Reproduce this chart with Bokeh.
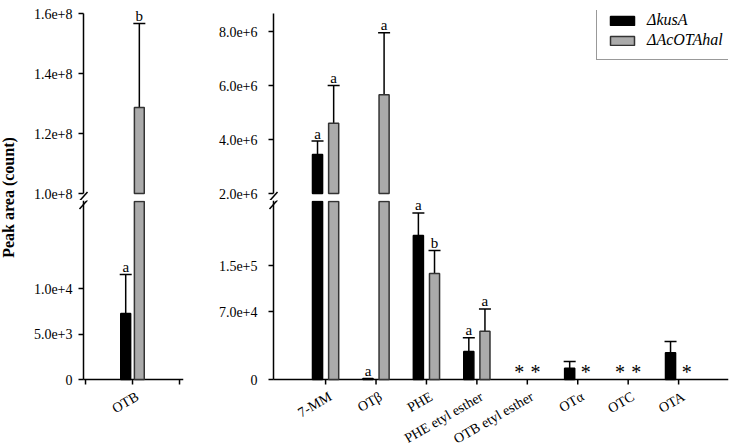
import numpy as np
from bokeh.plotting import figure
from bokeh.layouts import row, column
from bokeh.models import (ColumnDataSource, FixedTicker, Whisker, TeeHead, LabelSet,
                          Label, Legend, LegendItem, Range1d)
from bokeh.embed import file_html
from bokeh.resources import INLINE

# ---------------- data ----------------
left_categories = ["OTB"]
left_black_mean = [7250]
left_black_sd = [4300]
left_grey_mean = [1.287e8]
left_grey_sd = [2.8e7]
left_black_letters = ["a"]
left_grey_letters = ["b"]

right_categories = ["7-MM", "OTβ", "PHE", "PHE etyl esther", "OTB etyl esther", "OTα", "OTC", "OTA"]
right_black_mean = [3.44e6, 1000, 148200, 28800, 0, 11600, 0, 27500]
right_black_sd = [0.50e6, 0, 23300, 14100, 0, 6900, 0, 11600]
right_grey_mean = [4.60e6, 5.66e6, 109100, 49700, 0, 0, 0, 0]
right_grey_sd = [1.40e6, 2.29e6, 23600, 23000, 0, 0, 0, 0]
right_black_letters = ["a", "a", "a", "a", "", "", "", ""]
right_grey_letters = ["a", "a", "b", "a", "", "", "", ""]

series_names = ["ΔkusA", "ΔAcOTAhal"]
not_detected_mark = "*"

left_upper_ticks = [1.0e8, 1.2e8, 1.4e8, 1.6e8]
left_upper_labels = ["1.0e+8", "1.2e+8", "1.4e+8", "1.6e+8"]
left_lower_ticks = [0, 5000, 10000]
left_lower_labels = ["0", "5.0e+3", "1.0e+4"]
left_extra_xticks = [0, 2]
right_upper_ticks = [2e6, 4e6, 6e6, 8e6]
right_upper_labels = ["2.0e+6", "4.0e+6", "6.0e+6", "8.0e+6"]
right_lower_ticks = [0, 70000, 117300]
right_lower_labels = ["0", "7.0e+4", "1.5e+5"]

left_break_value = 1.0e8
right_break_value = 2.0e6

y_title = "Peak area (count)"

# ---------------- geometry / style ----------------
FONT = "Liberation Serif"
BLACK = "#000000"
GREY = "#ababab"
EDGE = "#333333"

TOP_H, TOP_BT = 200, 10          # upper figure, frame 190 px (y 10..200)
UP_ABOVE, UP_BELOW = 183, 7      # px above / below the break value in upper frame
BOT_H = 247                      # lower figure, frame = whole canvas
LO_ABOVE, LO_BELOW = 179, 68     # px above / below zero in lower frame
AXIS_PAD = 5                     # px between frame left edge and axis line

LEFT_CFG = dict(fw=105, bleft=50, bright=20, ppu=47.0, axis_x=-0.043,
                up_pp=2e7 / 60, lo_pp=5000 / 45.5, standoff=6, bar_w=0.21, off=0.145)
RIGHT_CFG = dict(fw=460, bleft=65, bright=4, ppu=50.43, axis_x=-0.033,
                 up_pp=2e6 / 54, lo_pp=70000 / 68, standoff=11, bar_w=0.2, off=0.16)


def style_fig(p):
    p.outline_line_color = None
    p.grid.visible = False
    p.background_fill_color = "white"
    p.border_fill_color = "white"


def style_yaxis(ax, standoff):
    ax.axis_line_color = None
    ax.major_tick_line_width = 1.5
    ax.major_tick_line_color = "black"
    ax.major_tick_out = 0
    ax.major_tick_in = AXIS_PAD
    ax.minor_tick_line_color = None
    ax.major_label_text_font = FONT
    ax.major_label_text_font_size = "14px"
    ax.major_label_text_color = "black"
    ax.major_label_standoff = standoff


def draw_segment(p, x, mean, sd, letters, lo, hi, clamp_hi, bar_w, fill, edge, asterisks):
    mean = np.asarray(mean, float)
    sd = np.asarray(sd, float)
    letters = np.asarray(letters, dtype=object)
    top = mean + sd
    m = mean > lo
    src = ColumnDataSource(dict(x=x[m], top=np.minimum(mean[m], clamp_hi), bottom=np.full(m.sum(), lo)))
    r = p.vbar(x="x", top="top", bottom="bottom", width=bar_w, source=src,
               fill_color=fill, line_color=edge, line_width=1.5)
    w = (sd > 0) & (top > lo) & (top <= hi)
    if w.any():
        wsrc = ColumnDataSource(dict(x=x[w], lower=np.maximum(mean[w], lo), upper=top[w]))
        p.add_layout(Whisker(base="x", lower="lower", upper="upper", source=wsrc, dimension="height",
                             line_width=1.5, line_color="black", lower_head=None,
                             upper_head=TeeHead(size=12, line_width=1.5, line_color="black")))
    lm = (letters != "") & (top > lo) & (top <= hi)
    if lm.any():
        lsrc = ColumnDataSource(dict(x=x[lm], y=top[lm], t=list(letters[lm])))
        p.add_layout(LabelSet(x="x", y="y", text="t", source=lsrc, text_align="center",
                              text_baseline="alphabetic", y_offset=2.5, text_font=FONT,
                              text_font_size="15px", text_color="black"))
    if asterisks:
        am = mean == 0
        if am.any():
            asrc = ColumnDataSource(dict(x=x[am], y=np.zeros(am.sum()), t=[not_detected_mark] * int(am.sum())))
            p.add_layout(LabelSet(x="x", y="y", text="t", source=asrc, text_align="center",
                                  text_baseline="middle", y_offset=8, text_font="DejaVu Sans",
                                  text_font_size="20px", text_color="black"))
    return r


def build_panel(cats, bm, bsd, gm, gsd, blt, glt, cfg, brk, up_ticks, up_labels,
                lo_ticks, lo_labels, extra_xticks):
    n = len(cats)
    centers = np.arange(1, n + 1, dtype=float)
    xb = centers - cfg["off"]
    xg = centers + cfg["off"]
    ppu, ax_x, fw = cfg["ppu"], cfg["axis_x"], cfg["fw"]
    xr = (ax_x - AXIS_PAD / ppu, ax_x - AXIS_PAD / ppu + fw / ppu)
    dx = 1.0 / ppu                        # data units per px (x)
    upp, lpp = cfg["up_pp"], cfg["lo_pp"]
    upr = (brk - UP_BELOW * upp, brk + UP_ABOVE * upp)
    lor = (-LO_BELOW * lpp, LO_ABOVE * lpp)
    W = cfg["bleft"] + fw + cfg["bright"]

    up = figure(width=W, height=TOP_H, x_range=Range1d(*xr), y_range=Range1d(*upr),
                output_backend="svg", toolbar_location=None, x_axis_location=None,
                min_border_left=cfg["bleft"], min_border_right=cfg["bright"],
                min_border_top=TOP_BT, min_border_bottom=0)
    lo = figure(width=W, height=BOT_H, x_range=Range1d(*xr), y_range=Range1d(*lor),
                output_backend="svg", toolbar_location=None, x_axis_location=None,
                min_border_left=cfg["bleft"], min_border_right=cfg["bright"],
                min_border_top=0, min_border_bottom=0)
    for p in (up, lo):
        style_fig(p)
        style_yaxis(p.yaxis[0], cfg["standoff"])
    up.yaxis.ticker = FixedTicker(ticks=up_ticks)
    up.yaxis.major_label_overrides = {t: l for t, l in zip(up_ticks, up_labels)}
    lo.yaxis.ticker = FixedTicker(ticks=lo_ticks)
    lo.yaxis.major_label_overrides = {t: l for t, l in zip(lo_ticks, lo_labels)}

    # axis lines (broken y axis) and x axis with ticks
    up_top = brk + (UP_ABOVE - 3) * upp
    up.segment(x0=[ax_x], y0=[brk], x1=[ax_x], y1=[up_top], line_color="black", line_width=1.5)
    lo.segment(x0=[ax_x], y0=[0], x1=[ax_x], y1=[lor[1]], line_color="black", line_width=1.5)
    lo.segment(x0=[ax_x], y0=[0], x1=[xr[1]], y1=[0], line_color="black", line_width=1.5)
    tx = np.concatenate([centers, np.asarray(extra_xticks, float)])
    lo.segment(x0=tx, y0=np.zeros(len(tx)), x1=tx, y1=np.full(len(tx), -5 * lpp),
               line_color="black", line_width=1.5)
    # break marks
    for p, yc, pp in ((up, brk - 3 * upp, upp), (lo, lor[1] - 4 * lpp, lpp)):
        p.segment(x0=[ax_x - 4 * dx], y0=[yc - 4.5 * pp], x1=[ax_x + 4 * dx], y1=[yc + 4.5 * pp],
                  line_color="black", line_width=1.5)

    # rotated category labels
    csrc = ColumnDataSource(dict(x=centers, y=np.zeros(n), t=list(cats)))
    lo.add_layout(LabelSet(x="x", y="y", text="t", source=csrc, angle=np.pi / 6,
                           text_align="right", text_baseline="middle", x_offset=5, y_offset=-16,
                           text_font=FONT, text_font_size="14px", text_color="black"))

    rb = draw_segment(up, xb, bm, bsd, blt, brk, upr[1], upr[1], cfg["bar_w"], BLACK, BLACK, False)
    rg = draw_segment(up, xg, gm, gsd, glt, brk, upr[1], upr[1], cfg["bar_w"], GREY, EDGE, False)
    draw_segment(lo, xb, bm, bsd, blt, 0, lor[1], lor[1] - lpp, cfg["bar_w"], BLACK, BLACK, True)
    draw_segment(lo, xg, gm, gsd, glt, 0, lor[1], lor[1] - lpp, cfg["bar_w"], GREY, EDGE, True)
    return up, lo, rb, rg


lu, ll, _, _ = build_panel(
    left_categories, left_black_mean, left_black_sd, left_grey_mean, left_grey_sd,
    left_black_letters, left_grey_letters, LEFT_CFG, left_break_value,
    left_upper_ticks, left_upper_labels, left_lower_ticks, left_lower_labels, left_extra_xticks)

ru, rl, rb, rg = build_panel(
    right_categories, right_black_mean, right_black_sd, right_grey_mean, right_grey_sd,
    right_black_letters, right_grey_letters, RIGHT_CFG, right_break_value,
    right_upper_ticks, right_upper_labels, right_lower_ticks, right_lower_labels, [])

legend = Legend(items=[LegendItem(label=series_names[0], renderers=[rb]),
                       LegendItem(label=series_names[1], renderers=[rg])],
                location=(328, 140), orientation="vertical",
                label_text_font=FONT, label_text_font_style="italic", label_text_font_size="16px",
                label_text_color="black", glyph_width=30, glyph_height=11, label_standoff=10,
                label_height=18, spacing=2, padding=10, margin=0,
                border_line_color=EDGE, border_line_width=1.5, background_fill_color="white",
                background_fill_alpha=1.0)
ru.add_layout(legend)

tf = figure(width=28, height=TOP_H + BOT_H, x_range=Range1d(0, 1), y_range=Range1d(0, 1),
            output_backend="svg", toolbar_location=None, x_axis_location=None,
            y_axis_location=None, min_border_left=0, min_border_right=0,
            min_border_top=0, min_border_bottom=0)
style_fig(tf)
tf.add_layout(Label(x=8, y=250, x_units="screen", y_units="screen", text=y_title,
                    angle=np.pi / 2, text_align="center", text_baseline="middle",
                    text_font=FONT, text_font_style="bold", text_font_size="16px",
                    text_color="black"))

layout = row(tf, column(lu, ll), column(ru, rl))

with open("out.html", "w") as f:
    f.write(file_html(layout, INLINE))
